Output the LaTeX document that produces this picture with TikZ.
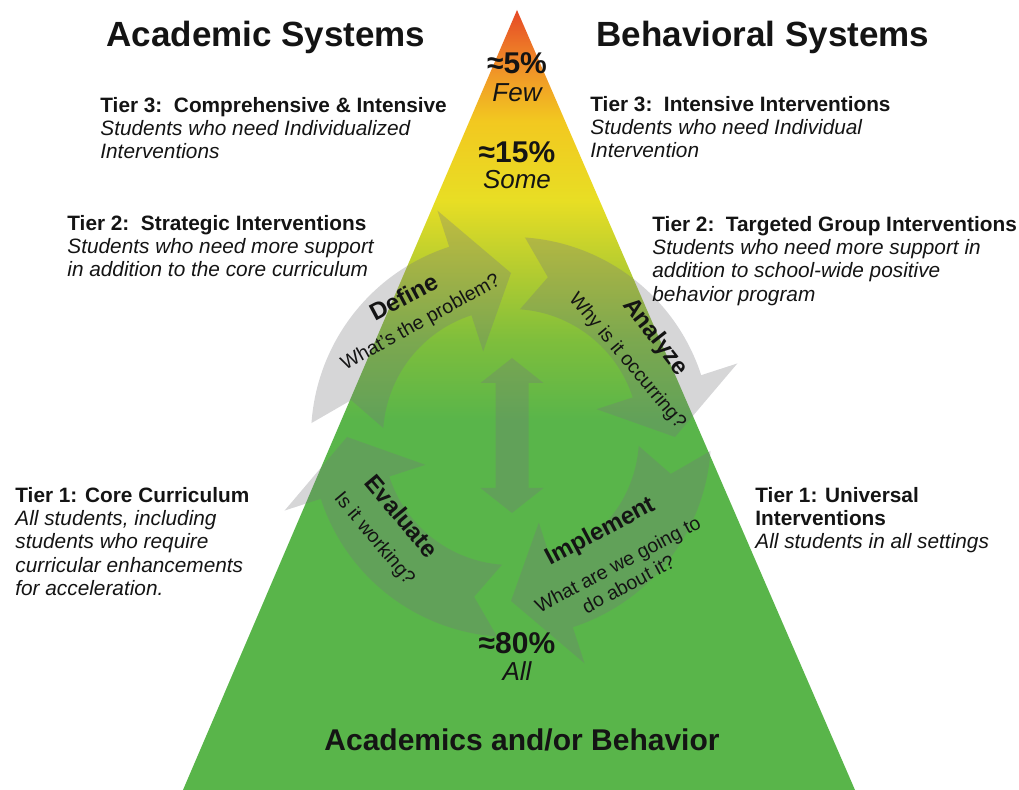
\documentclass[tikz,border=0pt]{standalone}
\usepackage{fontspec}
\setmainfont{Liberation Sans}
\usepackage{tikz}
\usetikzlibrary{calc, positioning}
\usepackage{xcolor}
\definecolor{PyrRed}{RGB}{230,72,38}
\definecolor{PyrOrange}{RGB}{240,145,40}
\definecolor{PyrAmber}{RGB}{242,200,32}
\definecolor{PyrYellow}{RGB}{232,222,36}
\definecolor{PyrLime}{RGB}{180,204,48}
\definecolor{PyrLeaf}{RGB}{126,190,60}
\definecolor{PyrGreen}{RGB}{89,181,74}
\definecolor{CycleGray}{RGB}{118,118,124}
\definecolor{InkBlack}{RGB}{20,20,20}
\pgfdeclareverticalshading{pyramid}{100bp}{%
  color(0bp)=(PyrGreen);%
  color(48.7bp)=(PyrGreen);%
  color(53.8bp)=(PyrLeaf);%
  color(58.3bp)=(PyrLime);%
  color(62.8bp)=(PyrYellow);%
  color(67.9bp)=(PyrAmber);%
  color(71.3bp)=(PyrOrange);%
  color(75bp)=(PyrRed);%
  color(100bp)=(PyrRed)%
}
\tikzset{%
  headline/.style={%
    font={\fontsize{17.5}{20}\selectfont\bfseries},%
    text=InkBlack,%
    inner sep=0pt%
  },
  tier/.style={%
    font={\fontsize{10.4}{11.6}\selectfont},%
    align=left,%
    text=InkBlack,%
    inner sep=0pt%
  },
  share/.style={%
    font={\fontsize{15}{17}\selectfont\bfseries},%
    text=InkBlack,%
    inner sep=0pt%
  },
  reach/.style={%
    font={\fontsize{13}{15}\selectfont\itshape},%
    text=InkBlack,%
    inner sep=0pt%
  },
  cyclearrow/.style={%
    fill=CycleGray,%
    fill opacity=0.3%
  },
  stepname/.style={%
    font={\fontsize{12}{14}\selectfont\bfseries},%
    text=InkBlack,%
    inner sep=0pt%
  },
  stepquestion/.style={%
    font={\fontsize{9.75}{11.3}\selectfont},%
    align=center,%
    text=InkBlack,%
    inner sep=0pt%
  },
}
\begin{document}
\begin{tikzpicture}[x=0.5pt, y=0.5pt]
    \useasboundingbox (0,0) rectangle (1019,-790);
    \coordinate (Apex) at (517,-10);
    \coordinate (BaseL) at (183,-790);
    \coordinate (BaseR) at (855,-790);
    \coordinate (C) at (511,-437);

    % pyramid
    \shade [shading=pyramid] (Apex) -- (BaseR) -- (BaseL) -- cycle;

    % four arrows of the cycle
    \foreach \t/\b in {176/108, 86/18, -4/-72, -94/-162} {
      \fill [cyclearrow]
        ($(C)+(\t:200)$) arc [start angle=\t, end angle=\b, radius=200]
        -- ($(C)+(\b:238)$) -- ($(C)+(\b-18:164)$) -- ($(C)+(\b:90)$)
        -- ($(C)+(\b:128)$) arc [start angle=\b, end angle=\t, radius=128]
        -- ($(C)+(\t-9:164)$) -- cycle;
    }
    \fill [cyclearrow]
      (495.5,-383) -- (480.5,-383) -- (512,-358) -- (543.5,-383) -- (528.5,-383)
      -- (528.5,-488) -- (543.5,-488) -- (512,-513) -- (480.5,-488) -- (495.5,-488)
      -- cycle;

    \node [stepname, rotate=28] (DefineName) at (404,-297) {Define};
    \node [stepquestion, rotate=29] (DefineAsk) at (421,-323) {What's the problem?};
    \node [stepname, rotate=-52] (AnalyzeName) at (655,-337) {Analyze};
    \node [stepquestion, rotate=-50] (AnalyzeAsk) at (627,-361) {Why is it occurring?};
    \node [stepname, rotate=-50] (EvaluateName) at (402,-516) {Evaluate};
    \node [stepquestion, rotate=-50] (EvaluateAsk) at (374,-539) {Is it working?};
    \node [stepname, rotate=28] (ImplementName) at (601,-532) {Implement};
    \node [stepquestion, rotate=28] (ImplementAsk) at (623,-574)
      {What are we going to\\do about it?};

    % shares
    \node [share] (ShareTop) at (517,-63) {≈5\%};
    \node [reach, below=4.5pt of ShareTop] (ShareTopWho) {Few};
    \node [share] (ShareMid) at (517,-152) {≈15\%};
    \node [reach, below=3.5pt of ShareMid] (ShareMidWho) {Some};
    \node [share] (ShareLow) at (517,-643) {≈80\%};
    \node [reach, below=3.5pt of ShareLow] (ShareLowWho) {All};
    \node [share, font={\fontsize{15}{17}\selectfont\bfseries}] (Foundation)
      at (522,-740) {Academics and/or Behavior};

    % academic side
    \node [headline, anchor=base] (AcadHead) at (266,-47) {Academic Systems};
    \node [tier, anchor=north west] (AcadTierThree) at (100,-97)
      {\textbf{Tier 3:\ \ Comprehensive \& Intensive}\\
       \textit{Students who need Individualized}\\
       \textit{Interventions}};
    \node [tier, anchor=north west] (AcadTierTwo) at (67,-215)
      {\textbf{Tier 2:\ \ Strategic Interventions}\\
       \textit{Students who need more support}\\
       \textit{in addition to the core curriculum}};
    \node [tier, anchor=north west] (AcadTierOne) at (15,-487)
      {\textbf{Tier 1: Core Curriculum}\\
       \textit{All students, including}\\
       \textit{students who require}\\
       \textit{curricular enhancements}\\
       \textit{for acceleration.}};

    % behavioral side
    \node [headline, anchor=base] (BehavHead) at (763,-47) {Behavioral Systems};
    \node [tier, anchor=north west] (BehavTierThree) at (590,-96)
      {\textbf{Tier 3:\ \ Intensive Interventions}\\
       \textit{Students who need Individual}\\
       \textit{Intervention}};
    \node [tier, anchor=north west] (BehavTierTwo) at (652,-216)
      {\textbf{Tier 2:\ \ Targeted Group Interventions}\\
       \textit{Students who need more support in}\\
       \textit{addition to school-wide positive}\\
       \textit{behavior program}};
    \node [tier, anchor=north west] (BehavTierOne) at (755,-487)
      {\textbf{Tier 1: Universal}\\
       \textbf{Interventions}\\
       \textit{All students in all settings}};
\end{tikzpicture}
\end{document}
